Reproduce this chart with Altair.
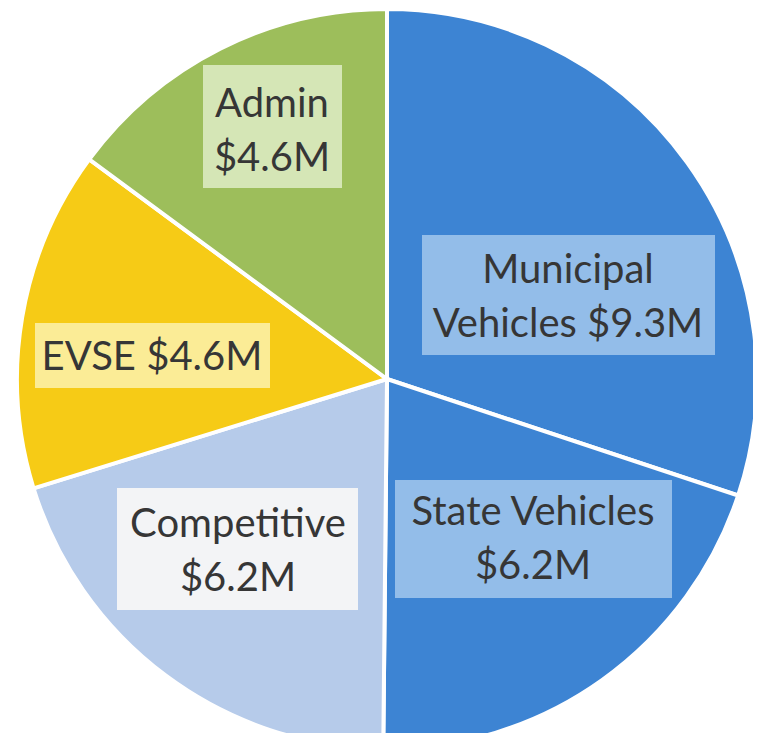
import altair as alt
import pandas as pd

# Slice data (clockwise from 12 o'clock)
categories = ["Municipal Vehicles", "State Vehicles", "Competitive", "EVSE", "Admin"]
values = [9.3, 6.2, 6.2, 4.6, 4.6]
slice_colors = ["#3d84d3", "#3d84d3", "#b6cbea", "#f6cb16", "#9dbe5b"]

# Label text
label_lines = [
    ["Municipal", "Vehicles $9.3M"],
    ["State Vehicles", "$6.2M"],
    ["Competitive", "$6.2M"],
    ["EVSE $4.6M"],
    ["Admin", "$4.6M"],
]
box_colors = ["#93bde9", "#93bde9", "#f3f4f6", "#fbec96", "#d5e6b6"]

# Annotation layout (chart pixel coordinates)
box_x = [414, 387, 109, 27, 195]
box_x2 = [707, 664, 350, 262, 334]
box_y = [227, 472, 480, 315, 57]
box_y2 = [347, 590, 602, 380, 180]
text_x = [560, 525, 230, 144, 264]
text_y = [275, 517, 529, 362, 109]

CX, CY, R = 379, 371, 370

slices = pd.DataFrame({
    "category": categories,
    "value": values,
    "order": list(range(len(categories))),
})

labels = pd.DataFrame({
    "category": categories,
    "lines": label_lines,
    "bx": box_x, "bx2": box_x2, "by": box_y, "by2": box_y2,
    "tx": text_x, "ty": text_y,
})

pie = alt.Chart(slices).mark_arc(
    outerRadius=R, stroke="white", strokeWidth=4
).encode(
    theta=alt.Theta("value:Q", stack=True),
    order=alt.Order("order:Q"),
    color=alt.Color("category:N", scale=alt.Scale(domain=categories, range=slice_colors), legend=None),
    x=alt.value(CX),
    y=alt.value(CY),
)

boxes = alt.Chart(labels).mark_rect().encode(
    x=alt.X("bx:Q", scale=None, axis=None),
    x2="bx2:Q",
    y=alt.Y("by:Q", scale=None, axis=None),
    y2="by2:Q",
    color=alt.Color("category:N", scale=alt.Scale(domain=categories, range=box_colors), legend=None),
)

texts = alt.Chart(labels).mark_text(
    font="Lato", fontSize=40, color="#363636", align="center",
    baseline="alphabetic", lineHeight=54
).encode(
    x=alt.X("tx:Q", scale=None, axis=None),
    y=alt.Y("ty:Q", scale=None, axis=None),
    text="lines",
)

chart = alt.layer(pie, boxes, texts).resolve_scale(color="independent").properties(
    width=745, height=725, autosize="none", padding=0, background="white"
).configure_view(stroke=None)

chart.save("out.html", embed_options={"renderer": "svg", "actions": False})
